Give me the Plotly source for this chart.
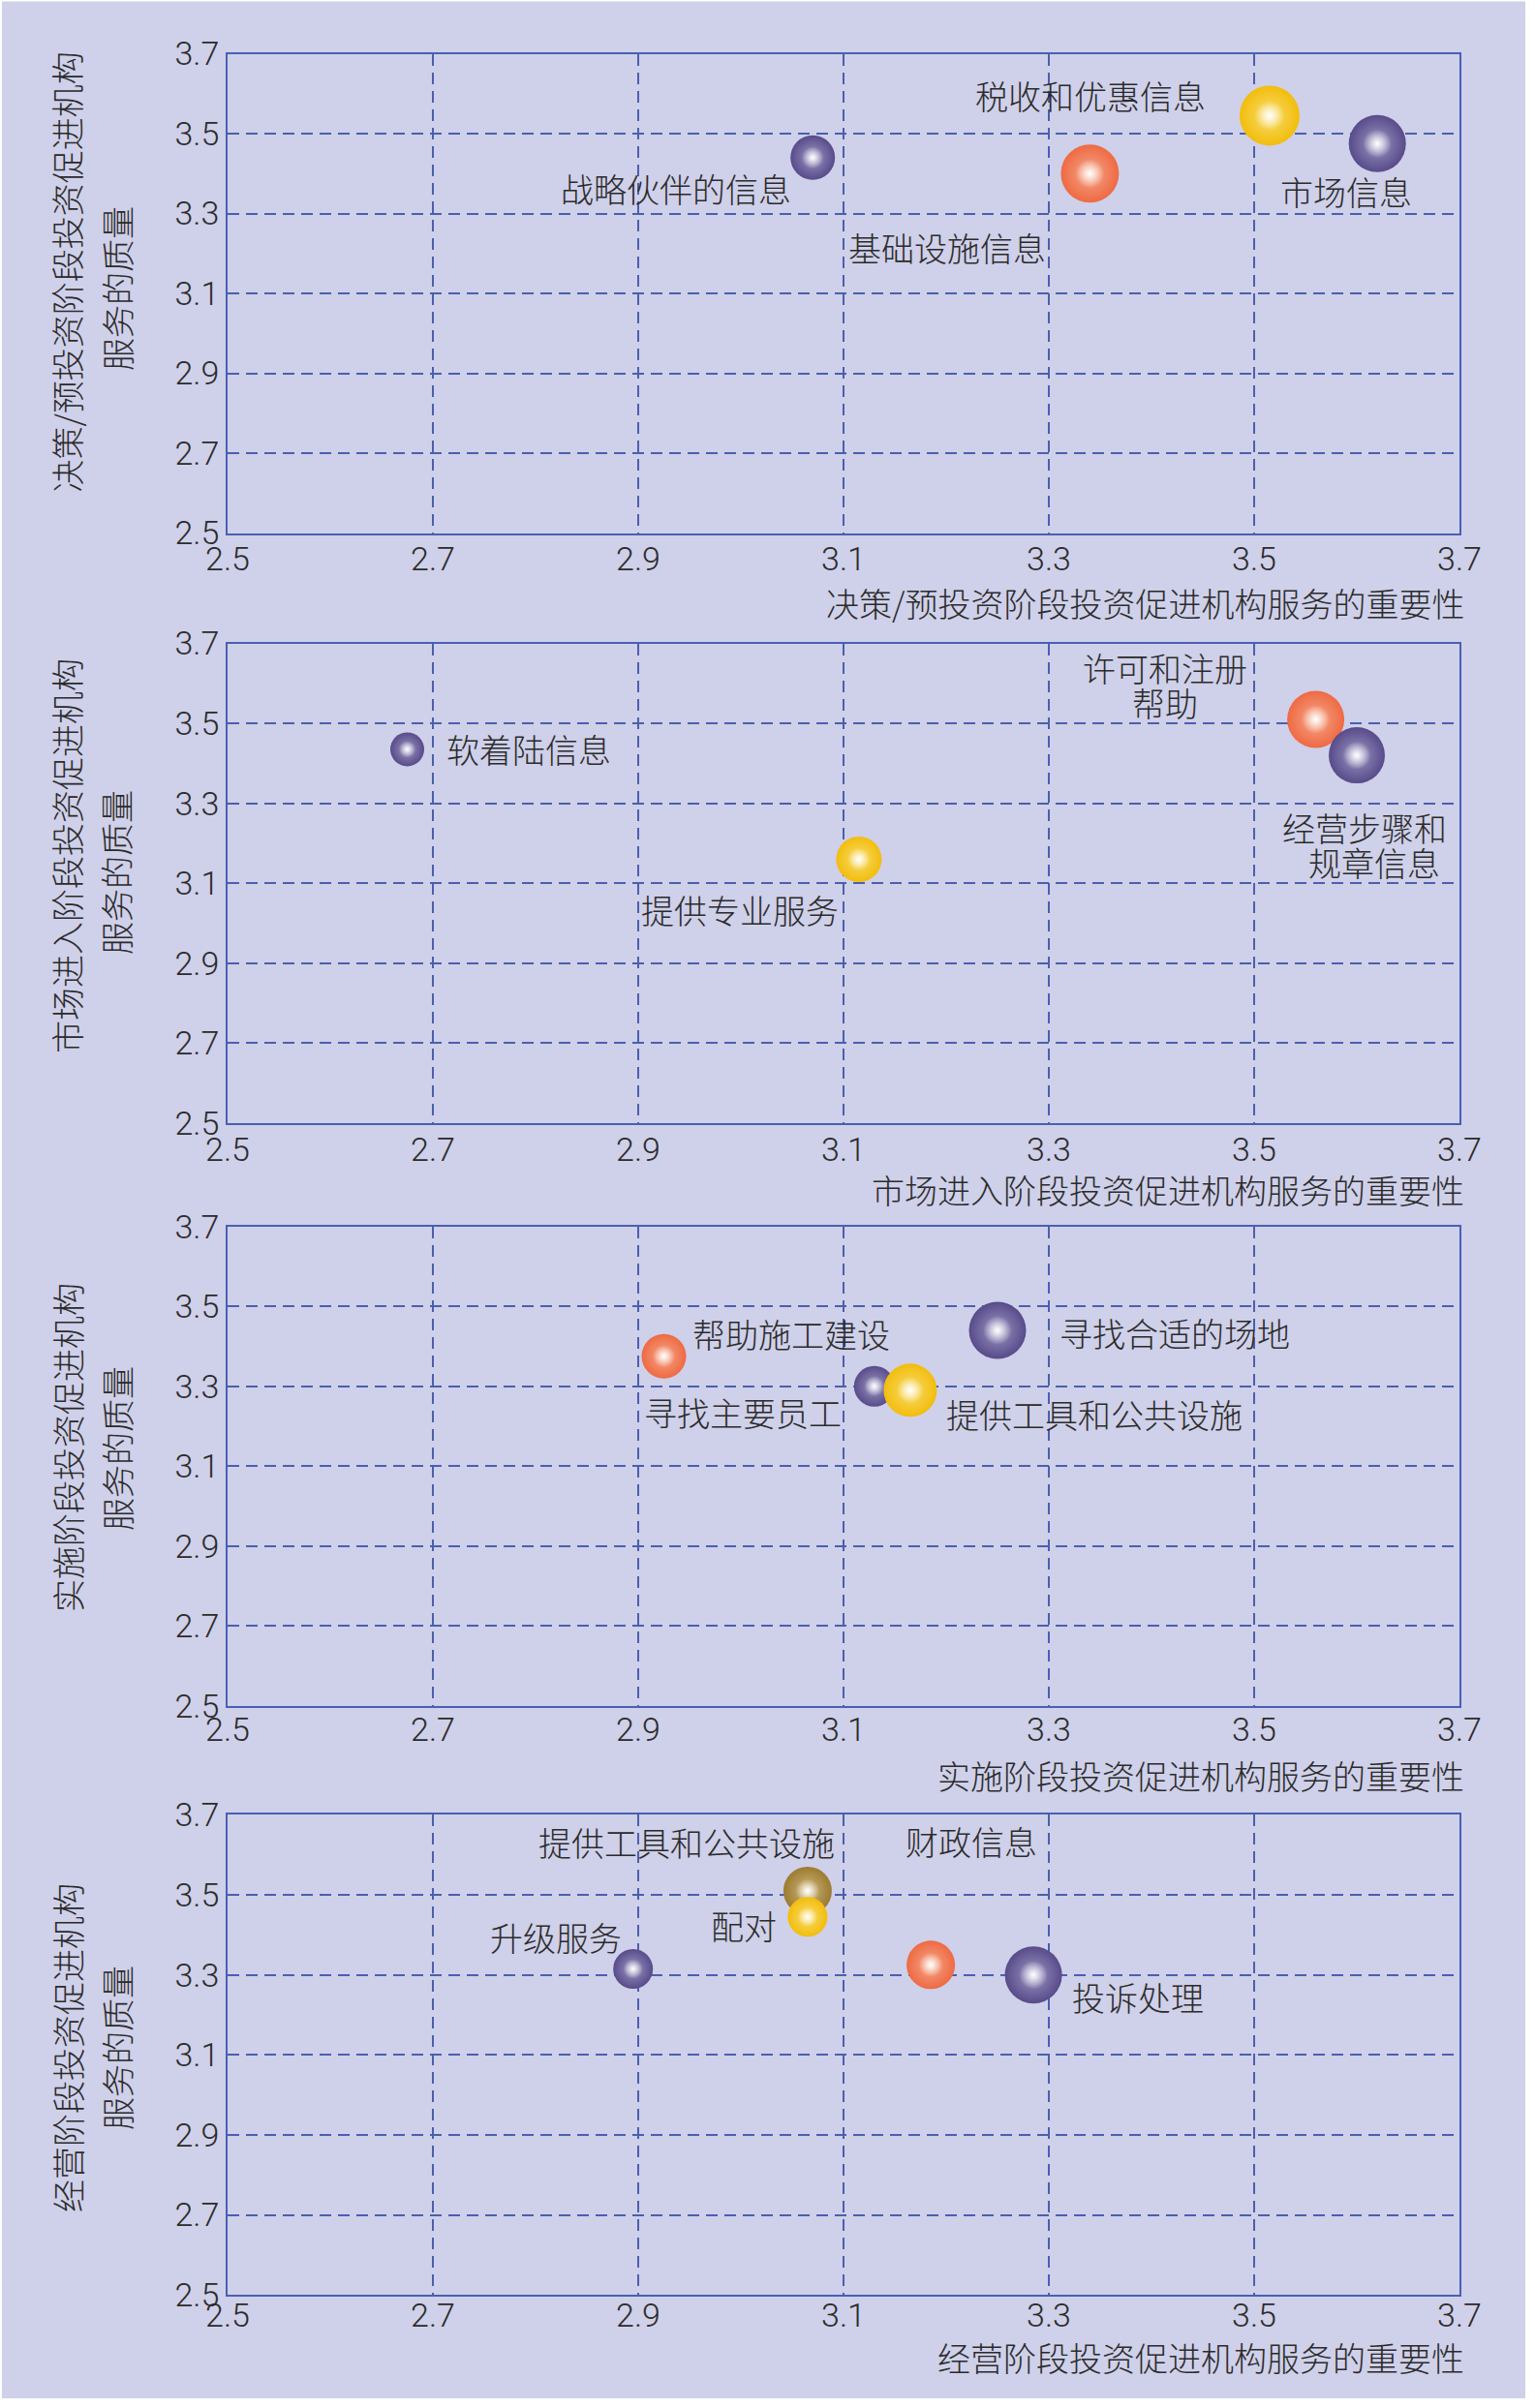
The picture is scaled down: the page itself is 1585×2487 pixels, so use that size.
import plotly.graph_objects as go

# ------------------------------------------------------------------ data
tick_vals = [2.5, 2.7, 2.9, 3.1, 3.3, 3.5, 3.7]
tick_text = ["2.5", "2.7", "2.9", "3.1", "3.3", "3.5", "3.7"]

p1_names = ["战略伙伴的信息", "基础设施信息", "税收和优惠信息", "市场信息"]
p1_x = [3.07, 3.34, 3.515, 3.62]
p1_y = [3.44, 3.40, 3.545, 3.475]
p1_size = [46, 60, 62, 59]
p1_kind = ["purple", "orange", "yellow", "purple"]

p2_names = ["软着陆信息", "提供专业服务", "许可和注册\n帮助", "经营步骤和\n规章信息"]
p2_x = [2.675, 3.115, 3.56, 3.60]
p2_y = [3.435, 3.16, 3.51, 3.42]
p2_size = [35, 47, 59, 58]
p2_kind = ["purple", "yellow", "orange", "purple"]

p3_names = ["帮助施工建设", "寻找主要员工", "提供工具和公共设施", "寻找合适的场地"]
p3_x = [2.925, 3.13, 3.165, 3.25]
p3_y = [3.375, 3.30, 3.29, 3.44]
p3_size = [46, 42, 55, 59]
p3_kind = ["orange", "purple", "yellow", "purple"]

p4_names = ["升级服务", "提供工具和公共设施", "配对", "财政信息", "投诉处理"]
p4_x = [2.895, 3.065, 3.065, 3.185, 3.285]
p4_y = [3.315, 3.51, 3.445, 3.325, 3.30]
p4_size = [41, 50, 41, 50, 59]
p4_kind = ["purple", "gold", "yellow", "orange", "purple"]

x_titles = [
    "决策/预投资阶段投资促进机构服务的重要性",
    "市场进入阶段投资促进机构服务的重要性",
    "实施阶段投资促进机构服务的重要性",
    "经营阶段投资促进机构服务的重要性",
]
y_titles = [
    ["决策/预投资阶段投资促进机构", "服务的质量"],
    ["市场进入阶段投资促进机构", "服务的质量"],
    ["实施阶段投资促进机构", "服务的质量"],
    ["经营阶段投资促进机构", "服务的质量"],
]

# ------------------------------------------------------------------ styling / layout
W, H = 1585, 2487
PLOT_L, PLOT_R = 235, 1507
PANEL_TB = [(55.5, 550.5), (664.5, 1160), (1266.6, 1762), (1874.4, 2370.2)]
XT_Y = [622, 1228, 1833, 2434]
YT_Y = [(281.6, 298), (884, 901), (1495, 1496), (2115, 2115)]
X_TICK_STANDOFF = [-4, -4, -7, -10]

# label line offsets (pixels) relative to each ball
label_offsets = [
    [[(-141, -31.5)], [(-147.5, -76.6)], [(-185, 21)], [(-32, -49)]],
    [[(125.6, 0)], [(-123, -52.5)], [(-155.6, 53.4), (-155.6, 17.8)],
     [(8, -74.3), (18, -110.8)]],
    [[(131.7, 23)], [(-135.6, -26.9)], [(190.4, -24.6)], [(182.5, -2.7)]],
    [[(-80, 33)], [(-124.5, 50.8)], [(-66, -8.4)], [(42, 128)], [(108, -23)]],
]

BALL = {
    "purple": ("#574B8A", "#9E97C2"),
    "orange": ("#EE6A43", "#F6A588"),
    "yellow": ("#F2BD0C", "#F8DC6C"),
    "gold": ("#9C7B31", "#CDB679"),
}

CJK = "Noto Sans CJK SC"
TXT = "#2b2b2b"
GRID = "#4B5FAF"
FRAME = "#4A5FB4"
PLOT_BG = "#DFE3F3"
OUTER_BG = "#CFD0E9"


def px2x(px):
    return px / W


def px2y(py):
    return 1 - py / H


def standoff_ok(v):
    try:
        go.layout.XAxis(ticklabelstandoff=v)
        return True
    except Exception:
        return False


panels = [
    (p1_names, p1_x, p1_y, p1_size, p1_kind),
    (p2_names, p2_x, p2_y, p2_size, p2_kind),
    (p3_names, p3_x, p3_y, p3_size, p3_kind),
    (p4_names, p4_x, p4_y, p4_size, p4_kind),
]

fig = go.Figure()
annotations = []

for i, (names, xs, ys, sizes, kinds) in enumerate(panels):
    n = i + 1
    xa = "x" if n == 1 else f"x{n}"
    ya = "y" if n == 1 else f"y{n}"
    for j in range(len(xs)):
        edge, mid = BALL[kinds[j]]
        fig.add_trace(go.Scatter(
            x=[xs[j]], y=[ys[j]], xaxis=xa, yaxis=ya, mode="markers",
            marker=dict(size=sizes[j], color=edge, line=dict(width=0),
                        gradient=dict(type="radial", color=mid)),
            showlegend=False, hoverinfo="skip"))
        fig.add_trace(go.Scatter(
            x=[xs[j]], y=[ys[j]], xaxis=xa, yaxis=ya, mode="markers",
            marker=dict(size=sizes[j] * 0.5, color="rgba(255,255,255,0)",
                        line=dict(width=0),
                        gradient=dict(type="radial", color="rgba(255,255,255,1)")),
            showlegend=False, hoverinfo="skip"))
        lines = names[j].split("\n")
        for k, line in enumerate(lines):
            dx, dy = label_offsets[i][j][k]
            annotations.append(dict(
                x=xs[j], y=ys[j], xref=xa, yref=ya, text=line, showarrow=False,
                xshift=dx, yshift=dy, xanchor="center", yanchor="middle",
                font=dict(family=CJK, size=34, color=TXT, weight=300)))

    top, bot = PANEL_TB[i]
    axis_common = dict(
        range=[2.5, 3.7], tickvals=tick_vals, ticktext=tick_text,
        showgrid=True, gridcolor=GRID, griddash="12px,7px", gridwidth=1.5,
        showline=True, linecolor=FRAME, linewidth=1.8, mirror=True,
        zeroline=False, ticks="",
        tickfont=dict(family="Roboto, Liberation Sans, Arial", size=34,
                      color=TXT, weight=300),
        fixedrange=True,
    )
    xax = dict(domain=[px2x(PLOT_L), px2x(PLOT_R)], anchor=ya, **axis_common)
    if standoff_ok(X_TICK_STANDOFF[i]):
        xax["ticklabelstandoff"] = X_TICK_STANDOFF[i]
    fig.layout[f"xaxis{'' if n == 1 else n}"] = xax
    fig.layout[f"yaxis{'' if n == 1 else n}"] = dict(
        domain=[px2y(bot), px2y(top)], anchor=xa, **axis_common)

    # x-axis title (right aligned)
    annotations.append(dict(
        x=px2x(1514), y=px2y(XT_Y[i]), xref="paper", yref="paper",
        text=x_titles[i], showarrow=False, xanchor="right", yanchor="middle",
        font=dict(family=CJK, size=34, color=TXT, weight=300)))
    # y-axis title, two lines
    for k, (xc, yc) in enumerate(zip([69, 120], YT_Y[i])):
        annotations.append(dict(
            x=px2x(xc), y=px2y(yc), xref="paper", yref="paper",
            text=y_titles[i][k], showarrow=False, textangle=-90,
            xanchor="center", yanchor="middle",
            font=dict(family=CJK, size=34, color=TXT, weight=300)))

fig.update_layout(
    autosize=True,
    margin=dict(l=0, r=0, t=0, b=0, pad=0, autoexpand=False),
    paper_bgcolor="white", plot_bgcolor=PLOT_BG,
    annotations=annotations,
    shapes=[dict(type="rect", xref="paper", yref="paper",
                 x0=px2x(2), x1=px2x(1575), y0=px2y(2477), y1=px2y(1.5),
                 fillcolor=OUTER_BG, line=dict(width=0), layer="below")],
)

fig.write_html(
    "out.html",
    config={"displayModeBar": False, "responsive": True},
    default_width="100vw",
    default_height="100vh",
    post_script=(
        "var de=document.documentElement, b=document.body;"
        "de.style.margin='0'; de.style.padding='0'; de.style.overflow='hidden';"
        "b.style.margin='0'; b.style.padding='0'; b.style.overflow='hidden';"
        "de.style.background='white'; b.style.background='white';"
        "Plotly.Plots.resize(document.getElementById('{plot_id}'));"
    ),
)
